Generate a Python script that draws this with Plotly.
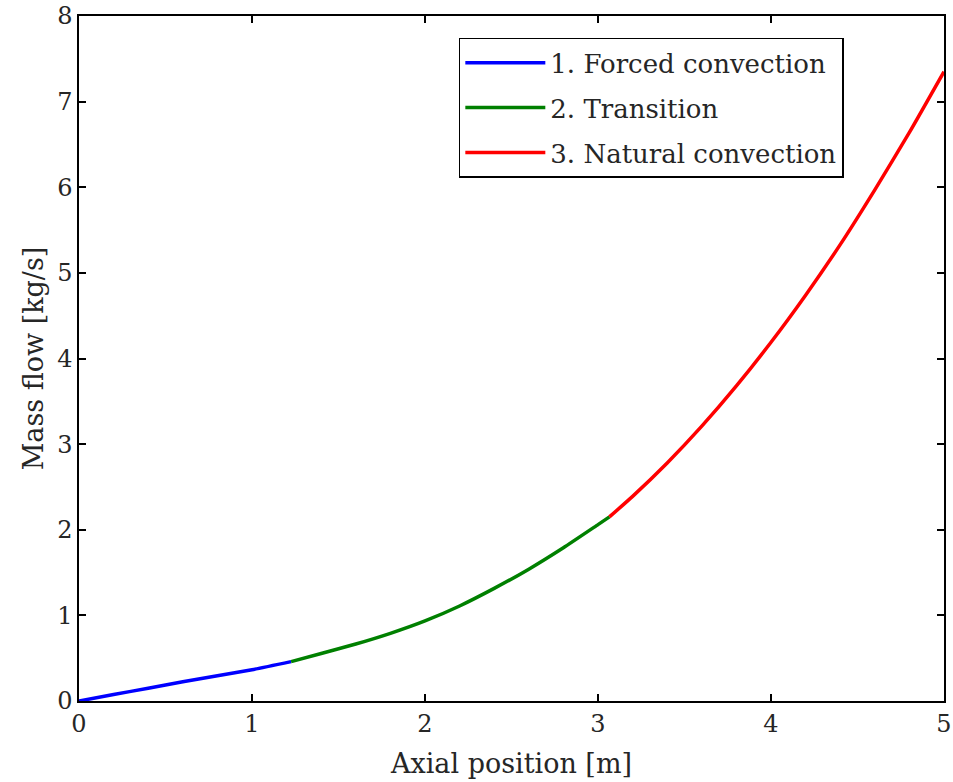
import plotly.graph_objects as go

# Mass flow along the channel, split by flow regime
forced_x = [0.0, 0.2, 0.4, 0.6, 0.8, 1.0, 1.226]
forced_y = [0.0, 0.075, 0.15, 0.225, 0.295, 0.365, 0.46]

transition_x = [1.226, 1.4, 1.6, 1.8, 2.0, 2.2, 2.4, 2.6, 2.8, 3.0, 3.066]
transition_y = [0.46, 0.555, 0.665, 0.79, 0.935, 1.11, 1.315, 1.54, 1.79, 2.06, 2.15]

natural_x = [3.066, 3.2, 3.4, 3.6, 3.8, 4.0, 4.2, 4.4, 4.6, 4.8, 5.0]
natural_y = [2.15, 2.39, 2.78, 3.21, 3.68, 4.19, 4.74, 5.33, 5.97, 6.64, 7.35]

names = ["1. Forced convection", "2. Transition", "3. Natural convection"]
colors = ["#0000ff", "#008000", "#ff0000"]

x_ticks = [0, 1, 2, 3, 4, 5]
y_ticks = [0, 1, 2, 3, 4, 5, 6, 7, 8]

FONT = "DejaVu Serif"
TEXT = "#262626"

fig = go.Figure()
for i, (xs, ys, name, c) in enumerate(zip([forced_x, transition_x, natural_x],
                                          [forced_y, transition_y, natural_y], names, colors)):
    fig.add_trace(go.Scatter(x=xs, y=ys, mode="lines", name=name, legendgroup=f"g{i}",
                             line=dict(color=c, width=3.5, shape="spline", smoothing=0.5)))

axis_common = dict(
    showline=True, linecolor="black", linewidth=1.5, mirror="ticks",
    ticks="inside", ticklen=7, tickwidth=1.5, tickcolor="black",
    showgrid=False, zeroline=False, ticklabeloverflow="allow", automargin=False,
    tickfont=dict(family=FONT, size=24, color=TEXT),
)

fig.update_layout(
    width=953, height=782,
    margin=dict(l=79, r=9, t=16, b=81, autoexpand=False),
    paper_bgcolor="white", plot_bgcolor="white",
    xaxis=dict(range=[0, 5], tickmode="array", tickvals=x_ticks,
               title=dict(text="Axial position [m]",
                          font=dict(family=FONT, size=27, color=TEXT), standoff=18),
               **axis_common),
    yaxis=dict(range=[0, 8], tickmode="array", tickvals=y_ticks,
               title=dict(text="Mass flow [kg/s]",
                          font=dict(family=FONT, size=27, color=TEXT), standoff=6),
               **axis_common),
    legend=dict(x=0.4391, y=0.968, xanchor="left", yanchor="top",
                bgcolor="white", bordercolor="black", borderwidth=1.5,
                font=dict(family=FONT, size=26, color=TEXT),
                itemwidth=80, tracegroupgap=8),
    showlegend=True,
)

fig.write_html("out.html")
